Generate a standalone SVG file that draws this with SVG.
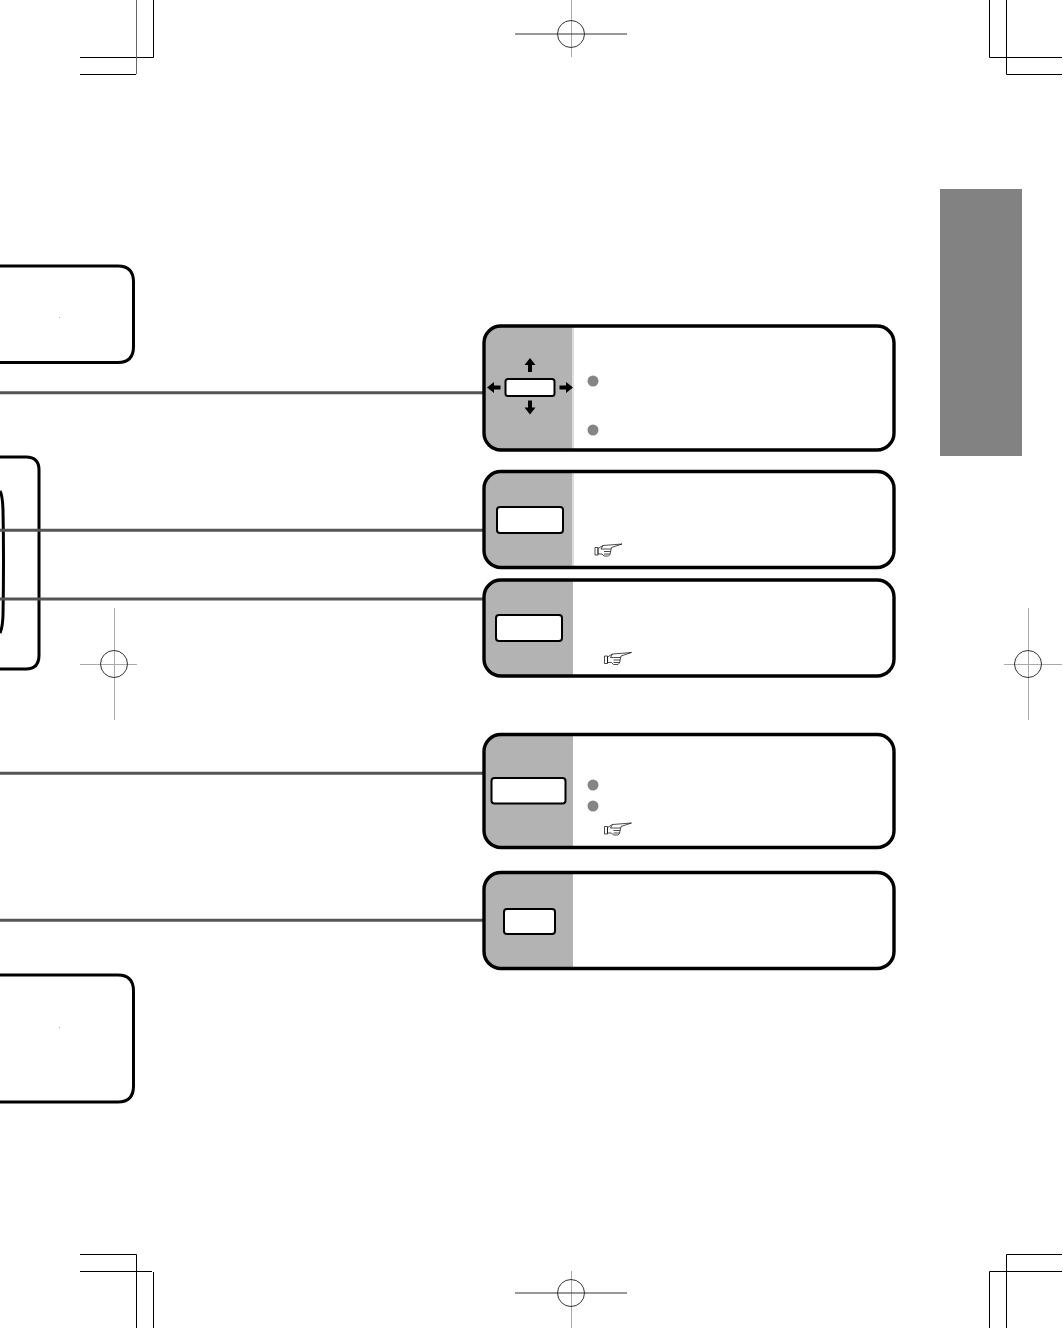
<svg xmlns="http://www.w3.org/2000/svg" width="1063" height="1328" viewBox="0 0 1063 1328">
<style>
.bg{fill:#fff}
.crop{fill:none;stroke:#000;stroke-width:1}
.cropg{fill:none;stroke:#666;stroke-width:1}
.reg{fill:none;stroke:#333;stroke-width:1}
.regg{fill:none;stroke:#aaa;stroke-width:1}
.side{fill:#b3b3b3}
.frame{fill:none;stroke:#000;stroke-width:3.4}
.box{fill:none;stroke:#000;stroke-width:3}
.key{fill:#fff;stroke:#000;stroke-width:2}
.wire{fill:none;stroke:#555;stroke-width:3}
.dot{fill:#858585}
.arr{fill:#000}
.hand{fill:#fff;stroke:#000;stroke-width:.7}
</style>
<defs>
<g id="hand"><path class="hand" d="M0 3.500H3V11H0ZM3 4.500 8 1.500 27 0 16.500 3.500 15 10.500 13.500 12H9L7 10H3Z"/><path class="hand" d="M9 5H16M9 7.500H15.500M9 10H15M8 1.500 6 5 9 5"/></g>
</defs>
<rect class="bg" width="1063" height="1328"/>
<g id="crop-marks">
<path class="crop" d="M153.500 0V57.500H80M989.500 0V57.500H1062M1006.500 0V74.500H1062M80 74.500H136M80 1254.500H136.500V1328M80 1271.500H152M153.500 1272V1328M989.500 1328V1271.500H1062M1006.500 1328V1254.500H1062"/>
<path class="cropg" d="M136.500 0V74"/>
</g>
<g id="registration-marks">
<path class="regg" d="M571.500 0V57M571.500 1271V1328M114.500 608V720M80 664.500H137M1028.500 608V720M1004 664.500H1062"/>
<path class="reg" d="M515 34H627M515 1293H627"/>
<circle class="reg" cx="571" cy="34" r="13.500"/>
<circle class="reg" cx="571" cy="1293" r="13.500"/>
<circle class="reg" cx="114" cy="664" r="13.500"/>
<circle class="reg" cx="1028" cy="664" r="13.500"/>
</g>
<rect id="side-tab" x="940" y="189" width="82" height="267" fill="#828282"/>
<g id="left-box-1"><path class="box" d="M0 266H118Q133.500 266 133.500 282V346.500Q133.500 362.500 118 362.500H0"/><rect x="59" y="317" width="1" height="1" fill="#aaa"/></g>
<g id="left-box-2"><path class="box" d="M0 457H26Q39 457 39 470V655Q39 669 26 669H0"/><path class="box" d="M0 491Q2.500 495 3 510Q4 560 3 615Q2.500 628 0 633"/></g>
<g id="left-box-3"><path class="box" d="M0 975H118Q133.500 975 133.500 991V1086Q133.500 1102 118 1102H0"/><rect x="59" y="1027" width="1" height="1" fill="#aaa"/></g>
<g id="connectors">
<path class="wire" d="M0 392.700H484M0 530.300H484M0 599H484M0 773.300H484M0 920.300H484"/>
</g>
<g id="panel-1">
<path class="side" d="M484 343Q484 326 501 326H573V450H501Q484 450 484 433Z"/><path d="M573 326V450" stroke="#ddd" stroke-width="2"/>
<rect class="frame" x="484" y="326" width="410" height="124" rx="17"/>
<rect class="key" x="505.500" y="379" width="49" height="17" rx="2.500"/>
<path class="arr" d="M530 358 535.500 365H532V372H528V365H524.500ZM530 414.500 535.500 407.500H532V400.500H528V407.500H524.500ZM487 387.500 494 382V385.500H500.500V389.500H494V393ZM573 387.500 566 382V385.500H559.500V389.500H566V393Z"/>
<circle class="dot" cx="593" cy="381" r="5.500"/><circle class="dot" cx="593" cy="430" r="5.500"/>
</g>
<g id="panel-2">
<path class="side" d="M484 488.500Q484 471.500 501 471.500H573V567.500H501Q484 567.500 484 550.500Z"/><path d="M573 471.500V567.500" stroke="#ddd" stroke-width="2"/>
<rect class="frame" x="484" y="471.500" width="410" height="96" rx="17"/>
<rect class="key" x="497" y="507" width="66" height="26" rx="3"/>
<use href="#hand" x="595" y="544"/>
</g>
<g id="panel-3">
<path class="side" d="M484 597Q484 580 501 580H573V676H501Q484 676 484 659Z"/>
<rect class="frame" x="484" y="580" width="410" height="96" rx="17"/>
<rect class="key" x="496" y="615" width="66" height="26" rx="3"/>
<use href="#hand" x="604.500" y="652.500"/>
</g>
<g id="panel-4">
<path class="side" d="M484 751.500Q484 734.500 501 734.500H573V847.500H501Q484 847.500 484 830.500Z"/>
<rect class="frame" x="484" y="734.500" width="410" height="113" rx="17"/>
<rect class="key" x="491.500" y="778" width="74" height="25.500" rx="3"/>
<circle class="dot" cx="593" cy="785" r="5.500"/><circle class="dot" cx="593" cy="806" r="5.500"/>
<use href="#hand" x="604.500" y="823"/>
</g>
<g id="panel-5">
<path class="side" d="M484 889.500Q484 872.500 501 872.500H573V968.500H501Q484 968.500 484 951.500Z"/>
<rect class="frame" x="484" y="872.500" width="410" height="96" rx="17"/>
<rect class="key" x="504" y="909" width="51" height="25" rx="3"/>
</g>
</svg>
